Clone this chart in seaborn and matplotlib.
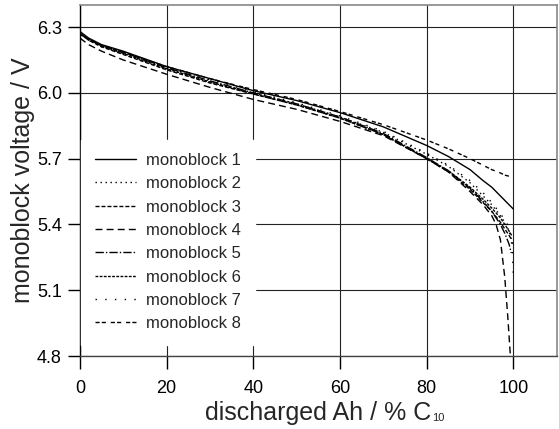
import matplotlib
matplotlib.use("Agg")
import matplotlib.pyplot as plt
import pandas as pd
import seaborn as sns

# Discharge curves of eight monoblocks: voltage vs. discharged capacity (% of C10)
labels = [f"monoblock {i}" for i in range(1, 9)]

x_std = [0, 2, 5, 10, 20, 30, 40, 50, 60, 70, 80, 85, 90, 93, 95, 97, 98, 99, 100]

mono1_x = x_std
mono1_v = [6.28, 6.25, 6.22, 6.19, 6.12, 6.065, 6.01, 5.965, 5.91, 5.845, 5.76, 5.71, 5.65, 5.60, 5.57, 5.53, 5.51, 5.49, 5.47]

mono2_x = x_std
mono2_v = [6.27, 6.24, 6.21, 6.18, 6.11, 6.05, 6.00, 5.95, 5.89, 5.82, 5.72, 5.665, 5.59, 5.53, 5.49, 5.44, 5.41, 5.37, 5.30]

mono3_x = [0, 2, 5, 10, 20, 30, 40, 50, 60, 70, 80, 85, 90, 93, 95, 97, 98, 99, 99.6]
mono3_v = [6.27, 6.24, 6.21, 6.175, 6.105, 6.045, 5.995, 5.945, 5.885, 5.81, 5.70, 5.64, 5.56, 5.50, 5.46, 5.41, 5.38, 5.35, 5.33]

mono4_x = [0, 2, 5, 10, 20, 30, 40, 50, 60, 70, 80, 85, 90, 93, 95, 96, 97, 98, 98.7, 99.3]
mono4_v = [6.25, 6.22, 6.19, 6.15, 6.085, 6.025, 5.97, 5.925, 5.87, 5.805, 5.70, 5.64, 5.55, 5.49, 5.44, 5.40, 5.33, 5.16, 4.98, 4.80]

mono5_x = [0, 2, 5, 10, 20, 30, 40, 50, 60, 70, 80, 85, 90, 93, 95, 97, 98, 99, 99.5]
mono5_v = [6.27, 6.245, 6.215, 6.185, 6.115, 6.055, 6.00, 5.95, 5.89, 5.815, 5.705, 5.645, 5.565, 5.505, 5.46, 5.40, 5.36, 5.31, 5.27]

mono6_x = [0, 2, 5, 10, 20, 30, 40, 50, 60, 70, 80, 85, 90, 93, 95, 97, 98, 99, 99.6]
mono6_v = [6.27, 6.245, 6.215, 6.18, 6.11, 6.05, 5.995, 5.945, 5.885, 5.81, 5.70, 5.645, 5.57, 5.515, 5.475, 5.43, 5.40, 5.37, 5.35]

mono7_x = [0, 2, 5, 10, 20, 30, 40, 50, 60, 70, 80, 85, 90, 93, 95, 97, 98, 99, 99.7, 100]
mono7_v = [6.27, 6.245, 6.215, 6.185, 6.115, 6.06, 6.005, 5.955, 5.895, 5.825, 5.725, 5.67, 5.60, 5.545, 5.50, 5.45, 5.42, 5.39, 5.30, 5.16]

mono8_x = x_std
mono8_v = [6.27, 6.245, 6.215, 6.185, 6.12, 6.065, 6.015, 5.97, 5.915, 5.855, 5.785, 5.745, 5.70, 5.67, 5.65, 5.635, 5.625, 5.62, 5.61]

series_x = [mono1_x, mono2_x, mono3_x, mono4_x, mono5_x, mono6_x, mono7_x, mono8_x]
series_v = [mono1_v, mono2_v, mono3_v, mono4_v, mono5_v, mono6_v, mono7_v, mono8_v]

x_ticks = [0, 20, 40, 60, 80, 100]
y_ticks = [4.8, 5.1, 5.4, 5.7, 6.0, 6.3]

frames = []
for name, xs, vs in zip(labels, series_x, series_v):
    frames.append(pd.DataFrame({"ah": xs, "volt": vs, "block": name}))
df = pd.concat(frames, ignore_index=True)

# dash codes (segment, gap, ...) in points
dash_codes = {
    "monoblock 1": "",
    "monoblock 2": (1.0, 2.6),
    "monoblock 3": (2.9, 1.4),
    "monoblock 4": (5.0, 3.0),
    "monoblock 5": (6.0, 1.5, 1.0, 1.5),
    "monoblock 6": (2.0, 1.0),
    "monoblock 7": (1.0, 6.0),
    "monoblock 8": (3.0, 1.5, 3.0, 3.5),
}

sns.set_theme(style="ticks")
plt.rcParams["font.family"] = ["Liberation Sans", "DejaVu Sans"]

fig = plt.figure(figsize=(5.59, 4.29), dpi=100, facecolor="white")
ax = fig.add_axes([0.143, 0.170, 0.853, 0.818])

sns.lineplot(data=df, x="ah", y="volt", style="block", style_order=labels,
             dashes=dash_codes, color="black", linewidth=1.0,
             estimator=None, sort=False, ax=ax, zorder=3)

ax.set_xlim(0, 110)
ax.set_ylim(4.8, 6.4)
ax.set_xticks(x_ticks)
ax.set_yticks(y_ticks)
ax.set_yticklabels([f"{v:.1f}" for v in y_ticks])
ax.grid(True, color="#222222", linewidth=0.8, zorder=1)
ax.set_axisbelow(True)

ax.tick_params(axis="x", bottom=True, direction="out", length=9, width=1.0,
               labelsize=13, colors="black", pad=8)
ax.tick_params(axis="y", left=True, direction="out", length=9, width=1.0,
               labelsize=13, colors="black", pad=4)

ax.set_xlabel("discharged Ah / % C", fontsize=18, labelpad=3)
ax.set_ylabel("monoblock voltage / V", fontsize=18, labelpad=1)

for side in ("top", "right"):
    ax.spines[side].set_visible(True)
    ax.spines[side].set_color("#888888")
    ax.spines[side].set_linewidth(1.2)
ax.spines["left"].set_color("black")
ax.spines["bottom"].set_color("#444444")
for side in ("left", "bottom"):
    ax.spines[side].set_linewidth(1.0)

sns.move_legend(ax, loc="upper left", bbox_to_anchor=(0.003, 0.617),
                title="", frameon=True, fontsize=12, handlelength=2.5,
                handletextpad=0.6, labelspacing=0.5, borderpad=0.8,
                borderaxespad=0.0, fancybox=False, framealpha=1.0,
                edgecolor="white", facecolor="white")

# small "10" subscript after the C of the x label
fig.canvas.draw()
bb = ax.xaxis.label.get_window_extent()
fx = bb.x1 / fig.bbox.width + 0.002
fy = bb.y0 / fig.bbox.height + 0.004
fig.text(fx, fy, "10", fontsize=8, ha="left", va="bottom")

fig.savefig("out.png", dpi=100)
